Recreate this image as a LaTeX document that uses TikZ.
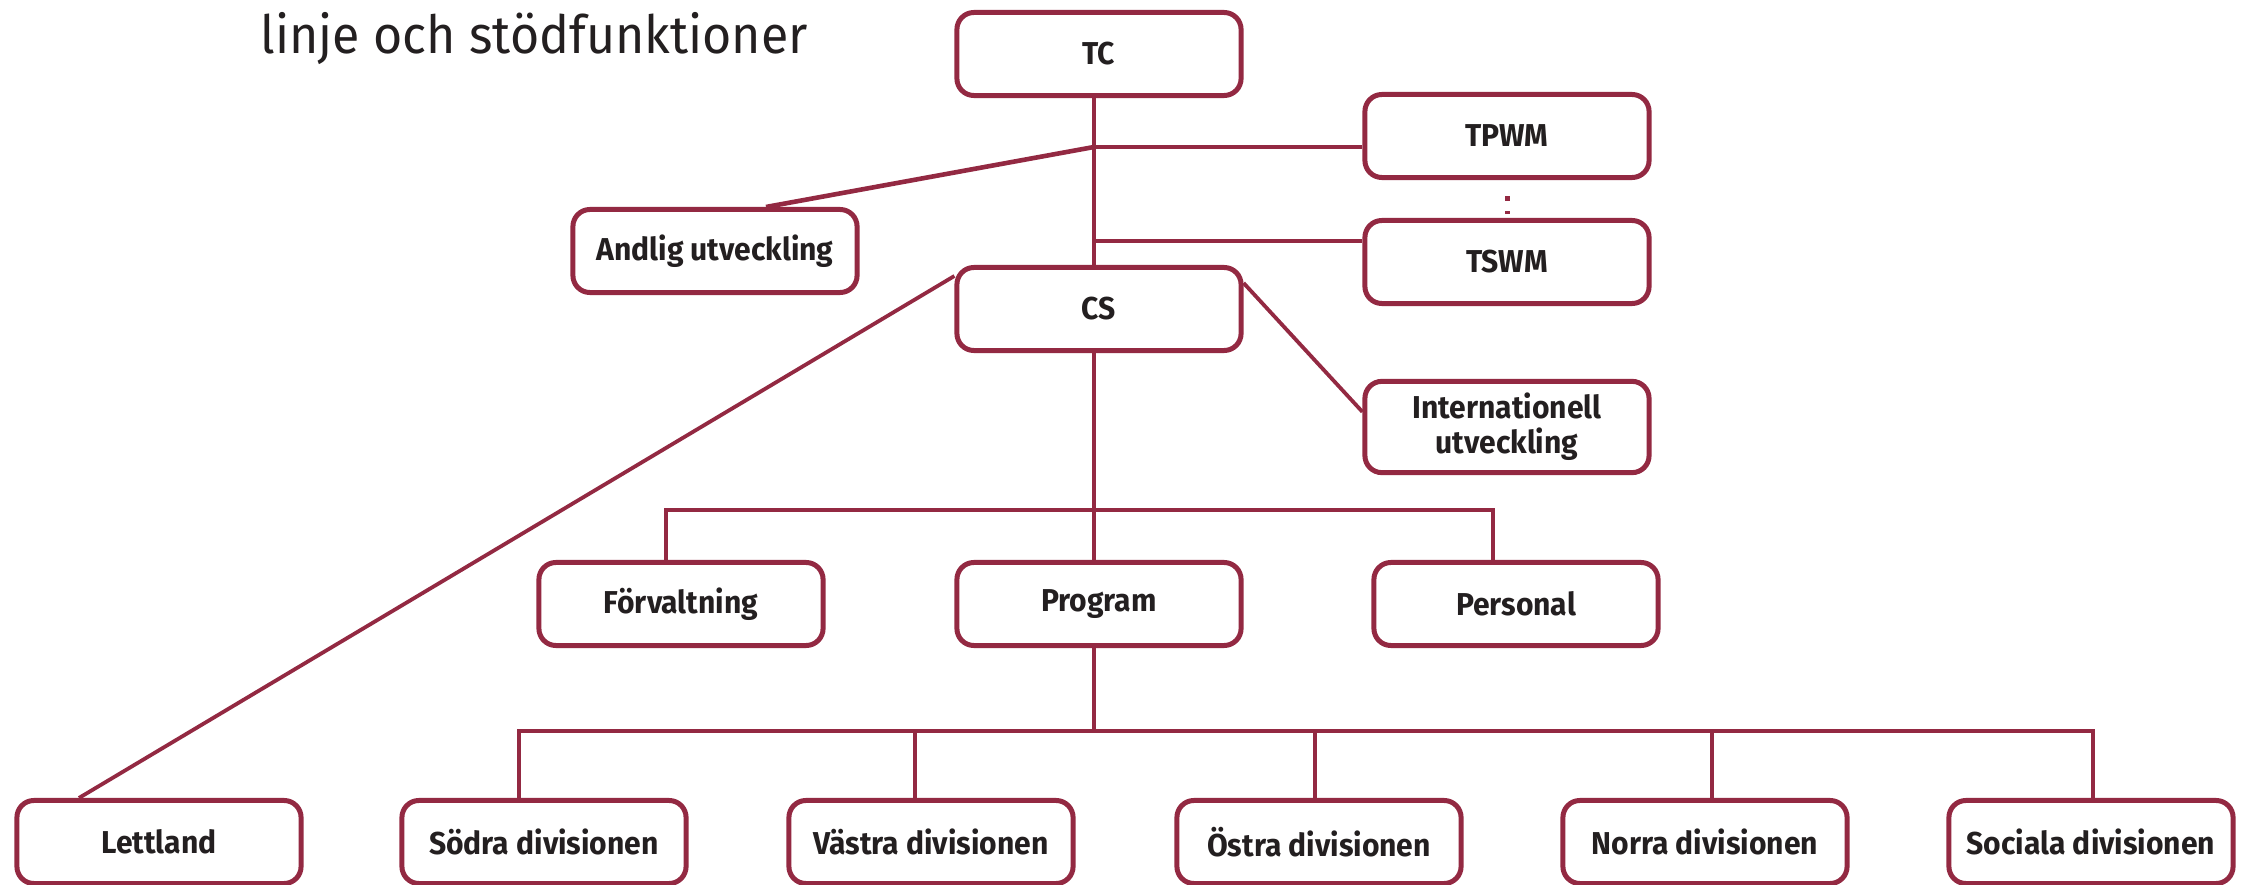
\documentclass[tikz,border=0pt]{standalone}
\usepackage{fontspec}
\setmainfont{Fira Sans}[FakeStretch=0.95]
\usepackage{tikz}

\definecolor{orgred}{RGB}{147,41,66}
\definecolor{orgtext}{RGB}{35,31,32}

\begin{document}
\begin{tikzpicture}[x=0.01cm, y=-0.01cm,
    unit/.style={draw=orgred, line width=0.05cm, rounded corners=0.17cm,
        minimum width=2.84cm, minimum height=0.83cm, align=center,
        text=orgtext, font=\bfseries\fontsize{9}{10}\selectfont},
    conn/.style={draw=orgred, line width=0.038cm},
    bus/.style={draw=orgred, line width=0.046cm}]
    \useasboundingbox (0,0) rectangle (2253,885);

    % Title
    \node[anchor=base west, inner sep=0pt, text=orgtext,
        font=\fontsize{15}{18}\selectfont] (title) at (260,54) {linje och stödfunktioner};

    % Top level
    \node[unit] (tc) at (1099,54) {TC};
    \node[unit] (tpwm) at (1507,136) {TPWM};
    \node[unit] (tswm) at (1507,262) {TSWM};
    \node[unit] (andlig) at (715,251) {Andlig utveckling};
    \node[unit] (cs) at (1099,309) {CS};
    \node[unit] (intl) at (1507,427) {Internationell\\utveckling};

    % Middle level
    \node[unit] (forv) at (681,604) {Förvaltning};
    \node[unit] (prog) at (1099,604) {Program};
    \node[unit] (pers) at (1516,604) {Personal};

    % Bottom level
    \node[unit] (lett) at (159,842) {Lettland};
    \node[unit] (sodra) at (544,842) {Södra divisionen};
    \node[unit] (vastra) at (931,842) {Västra divisionen};
    \node[unit] (ostra) at (1319,842) {Östra divisionen};
    \node[unit] (norra) at (1705,842) {Norra divisionen};
    \node[unit] (sociala) at (2091,842) {Sociala divisionen};

    % Junctions
    \coordinate (j1) at (1094,147);
    \coordinate (j2) at (1094,241);
    \coordinate (ml) at (666,510);
    \coordinate (mr) at (1493,510);
    \coordinate (bl) at (519,731);
    \coordinate (br) at (2093,731);

    % Trunk
    \draw[conn] (tc.south -| j1) -- (cs.north -| j1);
    \draw[conn] (cs.south -| j1) -- (prog.north -| j1);
    \draw[conn] (prog.south -| j1) -- (bl -| j1);

    % Staff lines
    \draw[conn] (j1) -- (j1 -| tpwm.west);
    \draw[conn] (j2) -- (j2 -| tswm.west);
    \draw[bus] (j1) -- ([xshift=0.51cm]andlig.north);
    \draw[orgred, line width=0.05cm, dash pattern=on 0.05cm off 0.1cm]
        ([yshift=-0.16cm]tpwm.south) -- ([yshift=0.04cm]tswm.north);
    \draw[conn] ([yshift=-0.11cm]cs.north west) -- ([xshift=-0.8cm]lett.north);
    \draw[conn] ([yshift=-0.18cm]cs.north east) -- ([yshift=-0.33cm]intl.north west);

    % Middle bus
    \draw[bus] (forv.north -| ml) -- (ml) -- (mr) -- (pers.north -| mr);

    % Bottom bus
    \draw[bus] (sodra.north -| bl) -- (bl) -- (br) -- (sociala.north -| br);
    \draw[conn] (vastra.north -| 915,0) -- (bl -| 915,0);
    \draw[conn] (ostra.north -| 1315,0) -- (bl -| 1315,0);
    \draw[conn] (norra.north -| 1712,0) -- (bl -| 1712,0);
\end{tikzpicture}
\end{document}
